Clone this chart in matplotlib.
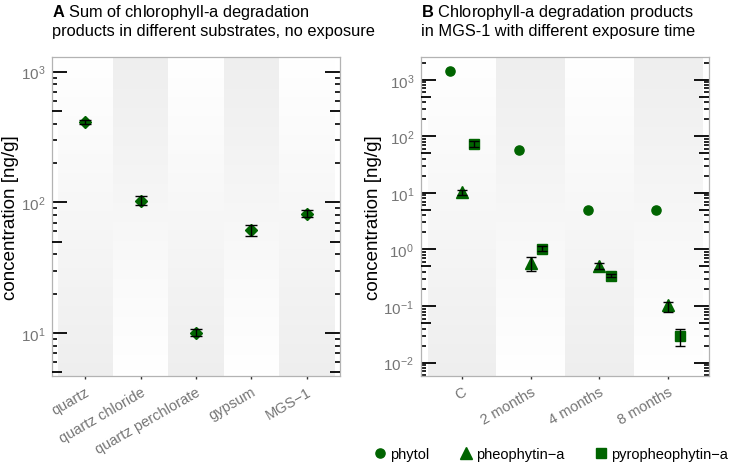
import matplotlib
matplotlib.use("Agg")
import matplotlib.pyplot as plt
import numpy as np
from matplotlib.ticker import LogLocator, NullFormatter, NullLocator
from matplotlib.lines import Line2D

plt.rcParams['font.family'] = ['Liberation Sans', 'DejaVu Sans']
plt.rcParams['mathtext.fontset'] = 'custom'
plt.rcParams['mathtext.rm'] = 'Liberation Sans'
plt.rcParams['mathtext.it'] = 'Liberation Sans:italic'
plt.rcParams['mathtext.bf'] = 'Liberation Sans:bold'

# panel A: sum of degradation products per substrate
substrates = ['quartz', 'quartz chloride', 'quartz perchlorate', 'gypsum', 'MGS\u22121']
sum_conc = [411, 103, 10.1, 61, 82]
sum_lo = [395, 96, 9.5, 55, 77]
sum_hi = [427, 112, 10.7, 67.5, 87.5]

# panel B: MGS-1 with exposure time
exposure = ['C', '2 months', '4 months', '8 months']
phytol = [1450, 57, 5.0, 4.9]
pheo = [10.3, 0.58, 0.52, 0.103]
pheo_lo = [9.2, 0.41, 0.455, 0.079]
pheo_hi = [11.1, 0.74, 0.565, 0.12]
pyro = [73, 1.03, 0.346, 0.0294]
pyro_lo = [65.5, 0.95, 0.32, 0.0195]
pyro_hi = [81.5, 1.13, 0.37, 0.04]

GREEN = '#006400'
TICKGREY = '#757575'

fig = plt.figure(figsize=(7.34, 4.64), dpi=100)

W, H = 734, 464
bottom = 1 - 377 / H
height = (377 - 58) / H
posA = [52 / W, bottom, (340 - 52) / W, height]
posB = [421 / W, bottom, (709 - 421) / W, height]


def background(pos, n, xlim):
    bg = fig.add_axes(pos, zorder=0)
    bg.set_xlim(xlim)
    bg.set_ylim(0, 1)
    bg.axis('off')
    t = np.linspace(1, 0, 64).reshape(-1, 1)
    grey = np.array([0.935, 0.935, 0.935])
    for i in range(n):
        tt = t if i % 2 == 0 else t[::-1]
        img = 1 - tt[..., None] * (1 - grey)
        x0 = max(i - 0.5, xlim[0])
        x1 = min(i + 0.5, xlim[1])
        bg.imshow(img, extent=[x0, x1, 0, 1], origin='lower', aspect='auto',
                  interpolation='bilinear')
    bg.set_xlim(xlim)
    bg.set_ylim(0, 1)


def style(ax, labels, ylim):
    ax.set_facecolor('none')
    ax.set_yscale('log')
    ax.set_ylim(ylim)
    ax.set_xlim(-0.6, len(labels) - 0.4)
    ax.set_xticks(range(len(labels)))
    ax.set_xticklabels(labels, rotation=30, ha='right', rotation_mode='anchor')
    ax.tick_params(axis='x', direction='out', length=2.5, width=1, color='#333333',
                   labelcolor=TICKGREY, labelsize=10.5, pad=3.5)
    # mid ticks at 5 x 10^k
    tw = ax.twinx()
    tw.set_yscale('log')
    tw.set_ylim(ylim)
    tw.yaxis.set_major_locator(LogLocator(base=10, subs=[5], numticks=20))
    tw.yaxis.set_minor_locator(NullLocator())
    tw.tick_params(axis='y', which='major', direction='in', length=7.2, width=1.3,
                   color='black', left=True, right=True, labelleft=False, labelright=False)
    for s in tw.spines.values():
        s.set_visible(False)
    ax.yaxis.set_major_locator(LogLocator(base=10, numticks=20))
    ax.yaxis.set_minor_locator(LogLocator(base=10, subs=[2, 3, 4, 6, 7, 8, 9], numticks=20))
    ax.yaxis.set_minor_formatter(NullFormatter())
    ax.tick_params(axis='y', which='major', direction='in', length=10.8, width=1.3,
                   color='black', left=True, right=True, labelcolor=TICKGREY,
                   labelsize=11, pad=5)
    ax.tick_params(axis='y', which='minor', direction='in', length=3.6, width=1.2,
                   color='black', left=True, right=True)
    for s in ax.spines.values():
        s.set_color('#b3b3b3')
        s.set_linewidth(0.9)
    ax.set_ylabel('concentration [ng/g]', fontsize=13.5, labelpad=1)


# ---- panel A ----
ylimA = (4.7, 1295)
background(posA, len(substrates), (-0.6, len(substrates) - 0.4))
axA = fig.add_axes(posA, zorder=1)
style(axA, substrates, ylimA)
xa = np.arange(len(substrates))
yA = np.array(sum_conc)
axA.plot(xa, yA, 'D', color=GREEN, ms=6.2, zorder=3)
axA.errorbar(xa, yA, yerr=[yA - np.array(sum_lo), np.array(sum_hi) - yA], fmt='none',
             ecolor='black', elinewidth=1, capsize=4.3, capthick=1, zorder=4)

# ---- panel B ----
ylimB = (0.0058, 2520)
background(posB, len(exposure), (-0.6, len(exposure) - 0.4))
axB = fig.add_axes(posB, zorder=1)
style(axB, exposure, ylimB)
xb = np.arange(len(exposure))
d = 0.17
axB.plot(xb - d, phytol, 'o', color=GREEN, ms=6.6, zorder=3)
p = np.array(pheo)
axB.plot(xb, p, '^', color=GREEN, ms=8, zorder=3)
axB.errorbar(xb, p, yerr=[p - np.array(pheo_lo), np.array(pheo_hi) - p], fmt='none',
             ecolor='black', elinewidth=1, capsize=3.6, capthick=1, zorder=4)
q = np.array(pyro)
axB.plot(xb + d, q, 's', color=GREEN, ms=6.8, zorder=3)
axB.errorbar(xb + d, q, yerr=[q - np.array(pyro_lo), np.array(pyro_hi) - q], fmt='none',
             ecolor='black', elinewidth=1, capsize=3.6, capthick=1, zorder=4)

# titles
fig.text(52 / W, 1 - 3 / H,
         r"$\bf{A}$ Sum of chlorophyll-a degradation" + "\nproducts in different substrates, no exposure",
         ha='left', va='top', fontsize=11.8, linespacing=1.15)
fig.text(421 / W, 1 - 3 / H,
         r"$\bf{B}$ Chlorophyll-a degradation products" + "\nin MGS-1 with different exposure time",
         ha='left', va='top', fontsize=11.8, linespacing=1.15)

# legend
handles = [Line2D([], [], ls='none', marker='o', color=GREEN, ms=6.6),
           Line2D([], [], ls='none', marker='^', color=GREEN, ms=8),
           Line2D([], [], ls='none', marker='s', color=GREEN, ms=6.8)]
fig.legend(handles, ['phytol', 'pheophytin\u2212a', 'pyropheophytin\u2212a'],
           loc='center', bbox_to_anchor=(550 / W, 1 - 455 / H), ncol=3, frameon=False,
           fontsize=10.5, handletextpad=0.2, columnspacing=2.0, handlelength=1.0)

fig.savefig('out.png', dpi=100)
